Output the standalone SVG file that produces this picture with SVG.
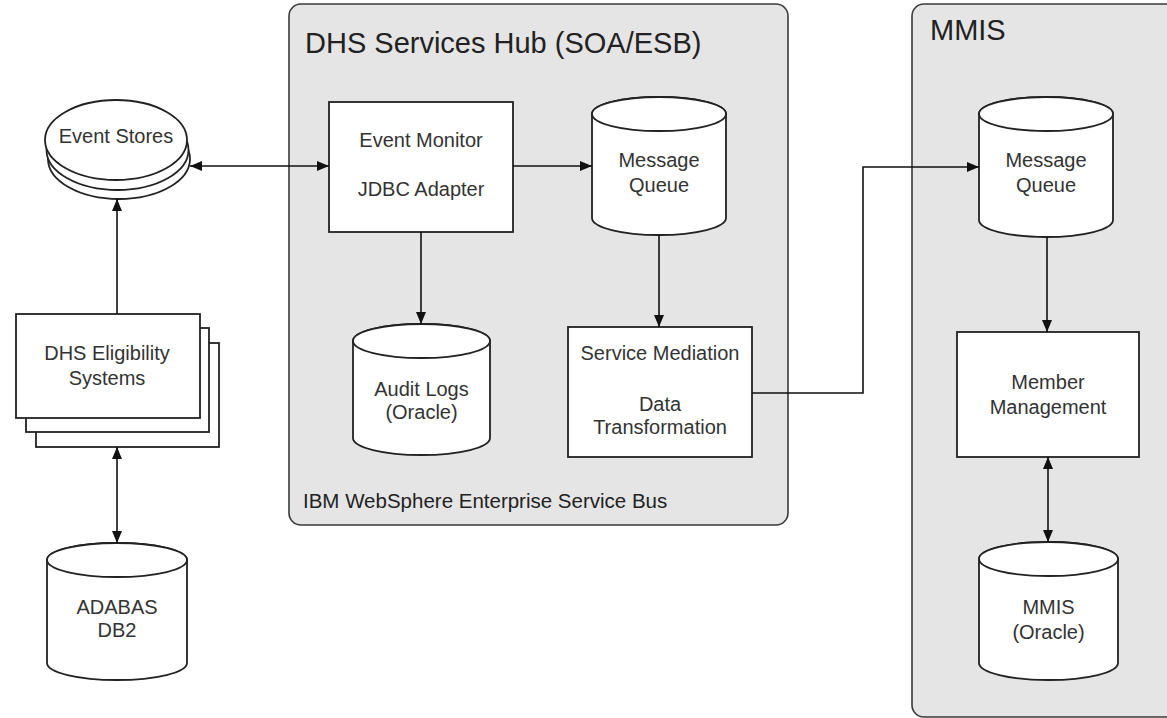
<svg xmlns="http://www.w3.org/2000/svg" width="1167" height="718" viewBox="0 0 1167 718">
<defs>
<marker id="arr" viewBox="0 0 12 10" refX="12" refY="5" markerWidth="12" markerHeight="10" markerUnits="userSpaceOnUse" orient="auto-start-reverse">
<path d="M0,0 L12,5 L0,10 Z" fill="#111"/>
</marker>
</defs>
<style>
.cont{fill:#e5e5e5;stroke:#3a3a3a;stroke-width:1.6}
.node{fill:#fff;stroke:#222;stroke-width:1.8}
.t{font-family:"Liberation Sans",Arial,sans-serif;font-size:20px;fill:#333;text-anchor:middle}
.title{font-family:"Liberation Sans",Arial,sans-serif;font-size:29px;fill:#222}
.lbl{font-family:"Liberation Sans",Arial,sans-serif;font-size:20.5px;fill:#222}
.c{fill:none;stroke:#111;stroke-width:1.6}
</style>
<rect width="1167" height="718" fill="#fff"/>
<g id="hub">
<rect class="cont" x="289" y="4" width="499" height="521" rx="12"/>
<text class="title" x="305" y="53">DHS Services Hub (SOA/ESB)</text>
<text class="lbl" x="303" y="508">IBM WebSphere Enterprise Service Bus</text>
</g>
<g id="mmis">
<rect class="cont" x="912" y="4" width="290" height="713" rx="12"/>
<text class="title" x="930" y="40">MMIS</text>
</g>
<g id="event-stores">
<ellipse class="node" cx="119" cy="159" rx="71" ry="40"/>
<ellipse class="node" cx="117.5" cy="150" rx="71" ry="40"/>
<ellipse class="node" cx="116" cy="140" rx="71" ry="40"/>
<text class="t" x="116" y="143">Event Stores</text>
</g>
<g id="eligibility">
<rect class="node" x="36" y="343" width="183" height="104"/>
<rect class="node" x="26" y="328" width="183" height="104"/>
<rect class="node" x="16" y="314" width="184" height="104"/>
<text class="t" x="107" y="360">DHS Eligibility</text>
<text class="t" x="107" y="385">Systems</text>
</g>
<g id="adabas">
<path class="node" d="M47,560 A70,17 0 0 1 187,560 L187,663 A70,17 0 0 1 47,663 Z"/>
<ellipse class="node" cx="117" cy="560" rx="70" ry="17"/>
<text class="t" x="117" y="614">ADABAS</text>
<text class="t" x="117" y="637">DB2</text>
</g>
<g id="event-monitor">
<rect class="node" x="329" y="102" width="184" height="130"/>
<text class="t" x="421" y="147">Event Monitor</text>
<text class="t" x="421" y="196">JDBC Adapter</text>
</g>
<g id="audit-logs">
<path class="node" d="M353,341 A68.5,17 0 0 1 490,341 L490,438 A68.5,17 0 0 1 353,438 Z"/>
<ellipse class="node" cx="421.5" cy="341" rx="68.5" ry="17"/>
<text class="t" x="421.5" y="396">Audit Logs</text>
<text class="t" x="421.5" y="419">(Oracle)</text>
</g>
<g id="hub-message-queue">
<path class="node" d="M592,114 A67,17 0 0 1 726,114 L726,218 A67,17 0 0 1 592,218 Z"/>
<ellipse class="node" cx="659" cy="114" rx="67" ry="17"/>
<text class="t" x="659" y="167">Message</text>
<text class="t" x="659" y="192">Queue</text>
</g>
<g id="service-mediation">
<rect class="node" x="568" y="327" width="184" height="130"/>
<text class="t" x="660" y="360">Service Mediation</text>
<text class="t" x="660" y="411">Data</text>
<text class="t" x="660" y="434">Transformation</text>
</g>
<g id="mmis-message-queue">
<path class="node" d="M979,114 A67,17 0 0 1 1113,114 L1113,220 A67,17 0 0 1 979,220 Z"/>
<ellipse class="node" cx="1046" cy="114" rx="67" ry="17"/>
<text class="t" x="1046" y="167">Message</text>
<text class="t" x="1046" y="192">Queue</text>
</g>
<g id="member-management">
<rect class="node" x="957" y="332" width="182" height="125"/>
<text class="t" x="1048" y="389">Member</text>
<text class="t" x="1048" y="414">Management</text>
</g>
<g id="mmis-oracle">
<path class="node" d="M979,559 A69.5,17 0 0 1 1118,559 L1118,663 A69.5,17 0 0 1 979,663 Z"/>
<ellipse class="node" cx="1048.5" cy="559" rx="69.5" ry="17"/>
<text class="t" x="1048.5" y="614">MMIS</text>
<text class="t" x="1048.5" y="639">(Oracle)</text>
</g>
<g id="connectors">
<path class="c" d="M190,166 L329,166" marker-start="url(#arr)" marker-end="url(#arr)"/>
<path class="c" d="M513,166 L592,166" marker-end="url(#arr)"/>
<path class="c" d="M421,232 L421,324" marker-end="url(#arr)"/>
<path class="c" d="M659,235 L659,327" marker-end="url(#arr)"/>
<path class="c" d="M752,393 L863,393 L863,167 L979,167" marker-end="url(#arr)"/>
<path class="c" d="M1047,237 L1047,332" marker-end="url(#arr)"/>
<path class="c" d="M1048,457 L1048,542" marker-start="url(#arr)" marker-end="url(#arr)"/>
<path class="c" d="M117,314 L117,199" marker-end="url(#arr)"/>
<path class="c" d="M117,447 L117,543" marker-start="url(#arr)" marker-end="url(#arr)"/>
</g>
</svg>
